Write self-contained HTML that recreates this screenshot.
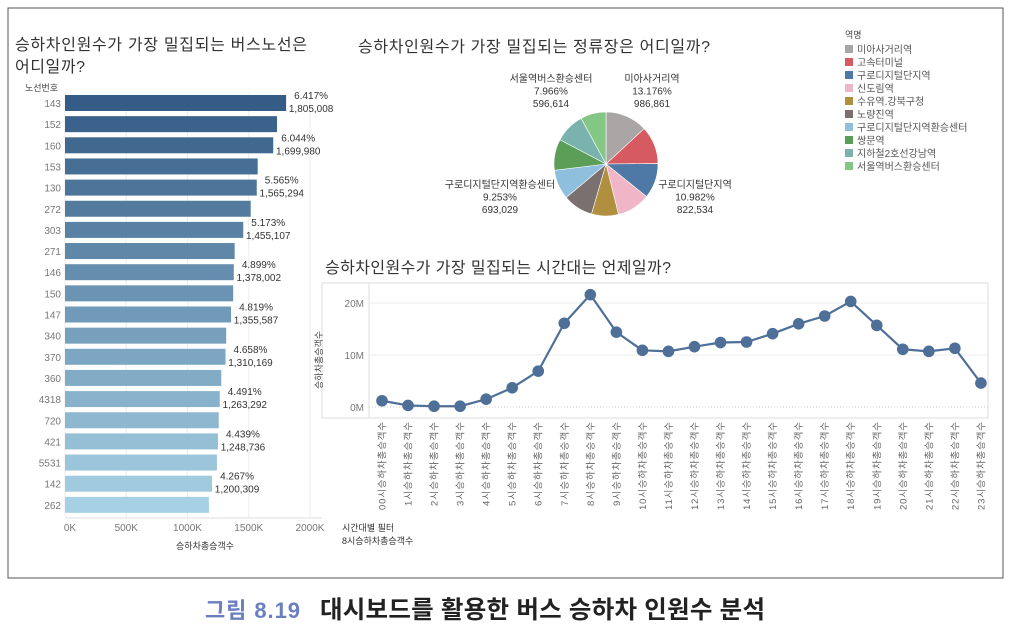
<!DOCTYPE html>
<html><head><meta charset="utf-8">
<style>
body{margin:0;background:#fff;}
svg{display:block;font-family:"Liberation Sans","Noto Sans CJK KR",sans-serif;}
</style></head>
<body>
<svg id="root" width="1012" height="633" viewBox="0 0 1012 633" xmlns="http://www.w3.org/2000/svg">
<rect x="8" y="8" width="995" height="570" fill="#fff" stroke="#555" stroke-width="1"/>
<text x="15" y="50" font-size="16" fill="#333" textLength="292">승하차인원수가 가장 밀집되는 버스노선은</text>
<text x="15" y="72" font-size="16" fill="#333" textLength="70">어디일까?</text>
<text x="25" y="91" font-size="9" fill="#444">노선번호</text>
<g id="barG"></g>
<text x="342" y="531" font-size="9" fill="#333">시간대별 필터</text>
<text x="342" y="544" font-size="9" fill="#333">8시승하차총승객수</text>

<text x="358" y="52" font-size="16" fill="#333" textLength="352">승하차인원수가 가장 밀집되는 정류장은 어디일까?</text>
<g id="pieG"></g>
<g id="legG"></g>

<text x="325" y="273" font-size="16" fill="#333" textLength="346">승하차인원수가 가장 밀집되는 시간대는 언제일까?</text>
<g id="lineG"></g>

<text x="205" y="618" font-size="22" font-weight="bold" fill="#6b7fc0" textLength="95">그림 8.19</text>
<text x="320" y="618" font-size="24.5" font-weight="bold" fill="#222" textLength="445">대시보드를 활용한 버스 승하차 인원수 분석</text>
</svg>
<script>
const routes=["143","152","160","153","130","272","303","271","146","150","147","340","370","360","4318","720","421","5531","142","262"];
const routeValues=[1805008,1731000,1699980,1573000,1565294,1516000,1455107,1385000,1378002,1373000,1355587,1316000,1310169,1276000,1263292,1255000,1248736,1240000,1200309,1175000];
const routePct=["6.417%","","6.044%","","5.565%","","5.173%","","4.899%","","4.819%","","4.658%","","4.491%","","4.439%","","4.267%",""];
const xTicks=[0,500000,1000000,1500000,2000000];
const xTickLabels=["0K","500K","1000K","1500K","2000K"];

const stations=["미아사거리역","고속터미널","구로디지털단지역","신도림역","수유역.강북구청","노량진역","구로디지털단지역환승센터","쌍문역","지하철2호선강남역","서울역버스환승센터"];
const stationPct=[13.176,11.8,10.982,10.4,8.4,9.4,9.253,9.7,9.4,7.966];
const stationColors=["#aba6a6","#d65b60","#4e79a7","#f1b5c8","#b0903f","#79706f","#8ebfdc","#5a9e58","#7ab3ae","#84c785"];

const hours=["00시승하차총승객수","1시승하차총승객수","2시승하차총승객수","3시승하차총승객수","4시승하차총승객수","5시승하차총승객수","6시승하차총승객수","7시승하차총승객수","8시승하차총승객수","9시승하차총승객수","10시승하차총승객수","11시승하차총승객수","12시승하차총승객수","13시승하차총승객수","14시승하차총승객수","15시승하차총승객수","16시승하차총승객수","17시승하차총승객수","18시승하차총승객수","19시승하차총승객수","20시승하차총승객수","21시승하차총승객수","22시승하차총승객수","23시승하차총승객수"];
const hourValues=[1.2,0.3,0.15,0.15,1.5,3.7,6.9,16.1,21.6,14.4,10.9,10.7,11.6,12.4,12.5,14.1,16.0,17.5,20.3,15.7,11.1,10.7,11.3,4.6];
const yTicks=[0,10,20];
const yTickLabels=["0M","10M","20M"];

const NS="http://www.w3.org/2000/svg";
function mk(tag,attrs,parent,txt){const e=document.createElementNS(NS,tag);for(const k in attrs)e.setAttribute(k,attrs[k]);if(txt!==undefined)e.textContent=txt;parent.appendChild(e);return e;}
function fmt(n){return n.toLocaleString("en-US");}

(function(){
const g=document.getElementById("barG");
const x0=65,x1=310,top=95,pitch=21.15,bh=16;
const xs=v=>x0+v/2000000*(x1-x0);
const lerp=(a,b,t)=>Math.round(a+(b-a)*t);
xTicks.forEach((t,i)=>{
 const l=mk("line",{x1:xs(t),x2:xs(t),y1:93,y2:517,stroke:"#eee"},g);
 
 
 const tx=mk("text",{x:xs(t)+(i==0?5:0),y:531,"font-size":10,fill:"#777","text-anchor":"middle"},g,xTickLabels[i]);
 
 
});
routes.forEach((r,i)=>{
 const t=i/(routes.length-1);
 const col=`rgb(${lerp(53,166,t)},${lerp(92,209,t)},${lerp(133,228,t)})`;
 const y=top+i*pitch;
 const b=mk("rect",{x:x0,y:y,width:xs(routeValues[i])-x0,height:bh,fill:col},g);
 
 
 const lb=mk("text",{x:61,y:y+12,"font-size":10,fill:"#777","text-anchor":"end"},g,r);
 
 
 if(routePct[i]){
  const ex=xs(routeValues[i]);
  const p=mk("text",{x:ex+25,y:y+4,"font-size":10,fill:"#333","text-anchor":"middle"},g,routePct[i]);
  
  
  const v=mk("text",{x:ex+25,y:y+17,"font-size":10,fill:"#333","text-anchor":"middle"},g,fmt(routeValues[i]));
  
  
 }
});
const ax=mk("line",{x1:x0,x2:322,y1:518,y2:518,stroke:"#ddd"},g);


const at=mk("text",{x:205,y:549,"font-size":9,fill:"#333","text-anchor":"middle"},g,"승하차총승객수");


})();

(function(){
const g=document.getElementById("pieG");
const cx=606,cy=164,r=52;
const total=stationPct.reduce((a,b)=>a+b,0);
let a=0;
stationPct.forEach((p,i)=>{
 const a2=a+p/total*Math.PI*2;
 const xA=cx+r*Math.sin(a),yA=cy-r*Math.cos(a),xB=cx+r*Math.sin(a2),yB=cy-r*Math.cos(a2);
 const large=(a2-a)>Math.PI?1:0;
 const s=mk("path",{d:`M${cx},${cy}L${xA},${yA}A${r},${r} 0 ${large} 1 ${xB},${yB}Z`,fill:stationColors[i],stroke:"#fff","stroke-width":0.6},g);
 
 
 a=a2;
});
const labels=[[9,551,82,"596,614"],[0,652,82,"986,861"],[2,695,188,"822,534"],[6,500,188,"693,029"]];
labels.forEach(L=>{
 const i=L[0];
 [stations[i],stationPct[i].toFixed(3)+"%",L[3]].forEach((t,k)=>{
  const e=mk("text",{x:L[1],y:L[2]+k*12.5,"font-size":10,fill:"#333","text-anchor":"middle"},g,t);
  
  
 });
});
const lg=document.getElementById("legG");
const h=mk("text",{x:845,y:38,"font-size":9,fill:"#444"},lg,"역명");


stations.forEach((s,i)=>{
 const y=49+i*13;
 const r2=mk("rect",{x:845,y:y-4,width:8,height:8,fill:stationColors[i]},lg);
 
 
 const t=mk("text",{x:857,y:y+4,"font-size":10,fill:"#555"},lg,s);
 
 
});
})();

(function(){
const g=document.getElementById("lineG");
const left=369,right=988,x0=382,pitch=26.04,y0=407,pxPerM=5.2;
const xs=i=>x0+i*pitch, ys=v=>y0-v*pxPerM;
const fr=mk("rect",{x:322,y:283,width:666,height:135,fill:"none",stroke:"#ddd"},g);


const yl=mk("line",{x1:left,x2:left,y1:283,y2:418,stroke:"#ddd"},g);


yTicks.forEach((t,i)=>{
 const l=mk("line",{x1:left,x2:right,y1:ys(t),y2:ys(t),stroke:t==0?"#ccc":"#eee","stroke-dasharray":t==0?"1,2":"none"},g);
 
 
 const tx=mk("text",{x:364,y:ys(t)+4,"font-size":10,fill:"#777","text-anchor":"end"},g,yTickLabels[i]);
 
 
});
const yt=mk("text",{x:0,y:0,"font-size":9,fill:"#444","text-anchor":"middle",transform:"translate(322,360) rotate(-90)"},g,"승하차총승객수");


const pts=hourValues.map((v,i)=>xs(i)+","+ys(v)).join(" ");
const pl=mk("polyline",{points:pts,fill:"none",stroke:"#4e6f98","stroke-width":2.2},g);


hourValues.forEach((v,i)=>{
 const c=mk("circle",{cx:xs(i),cy:ys(v),r:5.8,fill:"#4e6f98"},g);
 
 
 const t=mk("text",{x:0,y:0,"font-size":9.5,fill:"#666","text-anchor":"end",transform:`translate(${xs(i)+3.5},422) rotate(-90)`},g,hours[i]);
 t.setAttribute('textLength', hours[i].length>9?88:84);
 
 
});
})();
</script>
</body></html>
